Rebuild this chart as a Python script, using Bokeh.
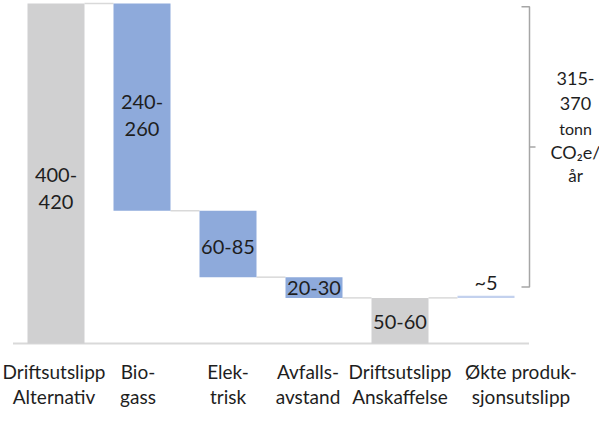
from bokeh.plotting import figure
from bokeh.models import ColumnDataSource, Range1d
from bokeh.core.properties import value
from bokeh.embed import file_html
from bokeh.resources import INLINE

# ---- data ----
categories_l1 = ["Driftsutslipp", "Bio-", "Elek-", "Avfalls-", "Driftsutslipp", "Økte produk-"]
categories_l2 = ["Alternativ", "gass", "trisk", "avstand", "Anskaffelse", "sjonsutslipp"]
bar_bottom = [0, 160, 80, 55, 0, 55]
bar_top = [410, 410, 160, 80, 55, 57.5]
bar_kind = ["total", "decrease", "decrease", "decrease", "total", "increase"]
value_labels = ["400-\n420", "240-\n260", "60-85", "20-30", "50-60", "~5"]
total_range_top = 406
total_range_bottom = 68
total_label = ["315-", "370", "tonn", "CO\u2082e/", "år"]

# ---- styling / layout ----
FONT = "Lato"
TXT = "#1e1e1e"
kind_color = {"total": "#d0d0d1", "decrease": "#8eaadb", "increase": "#c3d1ee"}

W, H = 599, 412
y0_px = 343.0                   # figure px of baseline
k = (y0_px - 3.0) / 350.0       # slight vertical squeeze to fit the page
px_per_u = 86.0
px_per_v = k * 350.0 / 410.0
x0_px = 63.5 - 8                # figure px of first bar centre
x_start = (0 - x0_px) / px_per_u
x_end = (W - x0_px) / px_per_u
y_end = y0_px / px_per_v
y_start = (y0_px - H) / px_per_v


def ux(ref_px):
    return (ref_px - 8 - x0_px) / px_per_u


p = figure(width=W, height=H, output_backend="svg", toolbar_location=None,
           x_range=Range1d(x_start, x_end), y_range=Range1d(y_start, y_end),
           min_border=0, outline_line_color=None)
p.axis.visible = False
p.grid.visible = False
p.background_fill_color = "white"
p.border_fill_color = "white"

n = len(bar_top)
xs = list(range(n))
bw = 57.0 / px_per_u

src = ColumnDataSource(dict(x=xs, top=bar_top, bottom=bar_bottom,
                            color=[kind_color[c] for c in bar_kind]))

# baseline
p.line(x=[-0.5, n - 0.5], y=[0, 0], line_color="#d9d9d9", line_width=2)

# connectors
levels = []
for i in range(n - 1):
    if bar_kind[i] == "decrease":
        levels.append(bar_bottom[i])
    else:
        levels.append(bar_top[i])
cx = [[i + bw / 2, i + 1 - bw / 2] for i in range(n - 1)]
cy = [[l, l] for l in levels]
p.multi_line(xs=cx, ys=cy, line_color="#d9d9d9", line_width=1.5)

p.vbar(x="x", top="top", bottom="bottom", width=bw, source=src,
       fill_color="color", line_color=None)

# value labels
lab_off = [14, 8, 3, 0, 1, -14]
lab_y = []
for i in range(n):
    if bar_kind[i] == "increase":
        lab_y.append(bar_top[i])
    else:
        lab_y.append((bar_top[i] + bar_bottom[i]) / 2)
p.text(x=xs, y=lab_y, text=value_labels, y_offset=[o * k for o in lab_off],
       text_align="center", text_baseline="middle", text_font=value(FONT),
       text_font_size="20px", text_color=TXT, text_line_height=1.13)

# category labels (two lines)
cat_dx = [-2, -4, 0, -6, 0, 35]
for lines, dy in ((categories_l1, 28), (categories_l2, 53)):
    p.text(x=xs, y=[0] * n, text=lines, x_offset=cat_dx, y_offset=[dy] * n,
           text_align="center", text_baseline="middle", text_font=value(FONT),
           text_font_size="19px", text_color=TXT)

# bracket
bx, bl, br = ux(537), ux(529), ux(543)
ymid = (total_range_top + total_range_bottom) / 2
p.line(x=[bl, bx, bx, bl], y=[total_range_top, total_range_top,
                              total_range_bottom, total_range_bottom],
       line_color="#a6a6a6", line_width=1.5)
p.line(x=[bx, br], y=[ymid, ymid], line_color="#a6a6a6", line_width=1.5)

# total label
tx = ux(583)
sizes = ["18px", "18px", "16px", "18px", "17px"]
offs = [-70, -45, -19, 5, 29]
for t, s, o in zip(total_label, sizes, offs):
    p.text(x=[tx], y=[ymid], text=[t], y_offset=[o * k], text_align="center",
           text_baseline="middle", text_font=value(FONT), text_font_size=s,
           text_color=TXT)

open("out.html", "w").write(file_html(p, INLINE))
